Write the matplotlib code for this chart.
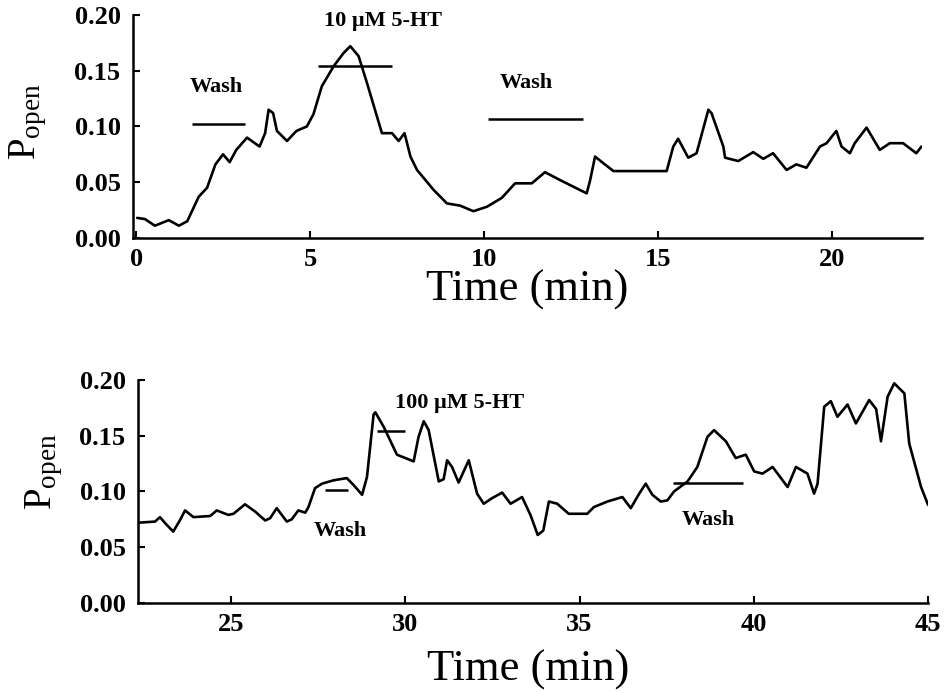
import numpy as np
import matplotlib.pyplot as plt

# Popen trace, first recording (0 - 22.6 min)
topTime = [0.02, 0.24, 0.53, 0.93, 1.22, 1.46, 1.79, 2.03, 2.27, 2.49, 2.68, 2.87,
           3.18, 3.54, 3.70, 3.80, 3.93, 4.04, 4.33, 4.60, 4.90, 5.09, 5.33, 5.67,
           5.96, 6.15, 6.39, 6.63, 7.06, 7.35, 7.54, 7.71, 7.88, 8.07, 8.55, 8.93,
           9.31, 9.69, 10.08, 10.51, 10.89, 11.37, 11.75, 12.18, 12.95, 13.05, 13.19,
           13.43, 13.72, 15.25, 15.44, 15.58, 15.87, 16.11, 16.45, 16.54, 16.88, 16.93,
           17.31, 17.74, 18.03, 18.31, 18.70, 18.98, 19.27, 19.66, 19.85, 20.13, 20.28,
           20.52, 20.66, 21.00, 21.38, 21.67, 22.05, 22.43, 22.58]
topPopen = [0.018, 0.017, 0.011, 0.016, 0.011, 0.015, 0.037, 0.045, 0.066, 0.075, 0.068, 0.079,
            0.090, 0.082, 0.094, 0.115, 0.112, 0.096, 0.087, 0.096, 0.100, 0.111, 0.136, 0.154,
            0.166, 0.172, 0.163, 0.139, 0.094, 0.094, 0.087, 0.094, 0.073, 0.061, 0.043, 0.031,
            0.029, 0.024, 0.028, 0.036, 0.049, 0.049, 0.059, 0.052, 0.040, 0.052, 0.073,
            0.067, 0.060, 0.060, 0.082, 0.089, 0.072, 0.076, 0.115, 0.112, 0.082, 0.072,
            0.069, 0.077, 0.071, 0.076, 0.061, 0.066, 0.063, 0.082, 0.085, 0.096, 0.082,
            0.076, 0.085, 0.099, 0.079, 0.085, 0.085, 0.076, 0.082]

# Popen trace, second recording (22.3 - 45 min)
botTime = [22.34, 22.82, 22.96, 23.11, 23.34, 23.53, 23.68, 23.92, 24.40, 24.59, 24.92, 25.07,
           25.40, 25.69, 25.98, 26.12, 26.31, 26.60, 26.74, 26.93, 27.13, 27.22, 27.41, 27.61,
           27.94, 28.32, 28.51, 28.76, 28.90, 29.09, 29.14, 29.38, 29.76, 30.24, 30.38, 30.53,
           30.67, 30.96, 31.10, 31.20, 31.34, 31.53, 31.82, 32.06, 32.25, 32.49, 32.78, 33.02,
           33.35, 33.59, 33.80, 33.96, 34.12, 34.36, 34.69, 35.22, 35.41, 35.80, 36.23, 36.47,
           36.71, 36.90, 37.09, 37.33, 37.52, 37.71, 38.10, 38.38, 38.67, 38.86, 39.20, 39.48,
           39.77, 40.01, 40.25, 40.54, 40.97, 41.21, 41.54, 41.73, 41.83, 42.02, 42.21, 42.40,
           42.69, 42.93, 43.31, 43.51, 43.65, 43.84, 44.03, 44.32, 44.46, 44.80, 45.00]
botPopen = [0.072, 0.073, 0.077, 0.0715, 0.064, 0.074, 0.083, 0.077, 0.078, 0.083, 0.079, 0.080,
            0.0885, 0.082, 0.074, 0.076, 0.085, 0.073, 0.075, 0.083, 0.081, 0.086, 0.103, 0.107,
            0.110, 0.112, 0.106, 0.097, 0.113, 0.169, 0.171, 0.158, 0.133, 0.127, 0.149, 0.163,
            0.155, 0.109, 0.111, 0.128, 0.122, 0.108, 0.128, 0.098, 0.089, 0.094, 0.099, 0.089,
            0.095, 0.079, 0.061, 0.065, 0.091, 0.089, 0.080, 0.080, 0.086, 0.091, 0.095, 0.085,
            0.098, 0.107, 0.097, 0.091, 0.092, 0.100, 0.109, 0.122, 0.149, 0.155, 0.145, 0.130,
            0.133, 0.118, 0.116, 0.122, 0.104, 0.122, 0.116, 0.098, 0.107, 0.176, 0.181, 0.167,
            0.178, 0.161, 0.182, 0.174, 0.145, 0.185, 0.197, 0.188, 0.143, 0.104, 0.088]

# application bars: (start, end, level) and their labels
topBars = [(1.6, 3.13, 0.102), (5.23, 7.36, 0.154), (10.1, 12.85, 0.107)]
topLabels = [('Wash', 2.3, 0.135), ('10 \u00b5M 5-HT', 7.1, 0.195), ('Wash', 11.2, 0.139)]
botBars = [(27.7, 28.36, 0.101), (29.2, 30.0, 0.154), (37.67, 39.68, 0.108)]
botLabels = [('Wash', 28.13, 0.065), ('100 \u00b5M 5-HT', 31.55, 0.179), ('Wash', 38.7, 0.074)]

topXTicks = [0, 5, 10, 15, 20]
botXTicks = [25, 30, 35, 40, 45]
yTicks = [0.0, 0.05, 0.10, 0.15, 0.20]

plt.rcParams['font.family'] = 'Liberation Serif'
plt.rcParams['mathtext.fontset'] = 'custom'
plt.rcParams['mathtext.rm'] = 'Liberation Serif'


def DrawPanel(ax, t, p, bars, labels, xticks, xlim):
    ax.plot(t, p, color='black', lw=1.9, solid_joinstyle='round', solid_capstyle='round')
    for start, end, level in bars:
        ax.hlines(level, start, end, color='black', lw=1.8)
    for text, x, y in labels:
        ax.text(x, y, text, ha='center', va='center', fontsize=16, fontweight='bold')
    ax.set_xlim(*xlim)
    ax.set_ylim(0, 0.2)
    ax.set_xticks(xticks)
    ax.set_xticklabels([str(v) for v in xticks])
    ax.set_yticks(yTicks)
    ax.set_yticklabels(['%.2f' % v for v in yTicks])
    for side in ['top', 'right']:
        ax.spines[side].set_visible(False)
    for side in ['left', 'bottom']:
        ax.spines[side].set_linewidth(1.8)
    ax.tick_params(direction='in', length=5, width=1.5, labelsize=19)
    ax.tick_params(axis='y', pad=9)
    ax.tick_params(axis='x', pad=7)
    for lab in ax.get_xticklabels() + ax.get_yticklabels():
        lab.set_fontweight('bold')


fig = plt.figure(figsize=(9.44, 6.93), dpi=100)
ax1 = fig.add_axes([0.1409, 0.6566, 0.836, 0.3218])
ax2 = fig.add_axes([0.1462, 0.1299, 0.8369, 0.3218])

DrawPanel(ax1, topTime, topPopen, topBars, topLabels, topXTicks, (-0.1, 22.6))
DrawPanel(ax2, botTime, botPopen, botBars, botLabels, botXTicks, (22.33, 45))

fig.text(0.558, 0.582, 'Time (min)', ha='center', va='center', fontsize=32)
fig.text(0.559, 0.033, 'Time (min)', ha='center', va='center', fontsize=32)
fig.text(0.030, 0.825, r'$\mathrm{P_{open}}$', ha='center', va='center', rotation=90, fontsize=28)
fig.text(0.047, 0.319, r'$\mathrm{P_{open}}$', ha='center', va='center', rotation=90, fontsize=28)

plt.savefig('out.png', dpi=100)
